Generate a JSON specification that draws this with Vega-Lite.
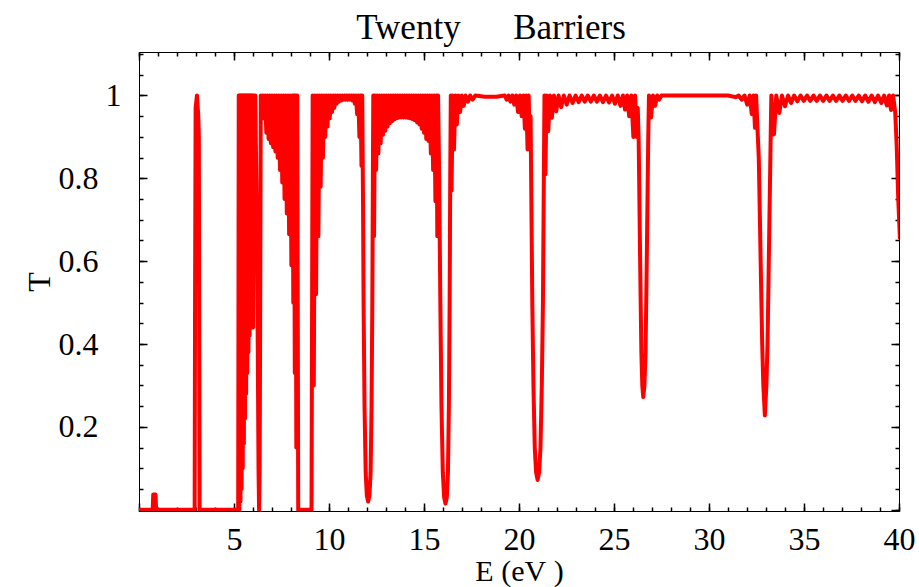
{
"$schema": "https://vega.github.io/schema/vega-lite/v6.json",
"width": 760, "height": 459,
"autosize": {"type": "none"},
"padding": {"left": 139, "top": 52, "right": 20, "bottom": 76},
"title": {"text": "Twenty\u00a0\u00a0\u00a0\u00a0\u00a0\u00a0Barriers", "font": "Liberation Serif", "fontSize": 35, "fontWeight": "normal", "color": "black", "anchor": "middle", "dx": -28, "offset": 5},
"data": {"values": [
{"E":0,"T":0},{"E":0.72,"T":0},{"E":0.75,"T":0.037},{"E":0.87,"T":0.037},{"E":0.9,"T":0},{"E":2.93,"T":0},{"E":2.95,"T":0.5},{"E":2.98,"T":0.97},{"E":3.05,"T":1},{"E":3.12,"T":0.95},{"E":3.15,"T":0.9},{"E":3.17,"T":0.4},{"E":3.19,"T":0},{"E":5.22,"T":0},
{"E":5.25,"T":1},{"E":5.28,"T":0},{"E":5.31,"T":1},{"E":5.34,"T":0.02},{"E":5.37,"T":1},{"E":5.4,"T":0.05},{"E":5.43,"T":1},{"E":5.46,"T":0.1},{"E":5.49,"T":1},{"E":5.52,"T":0.16},{"E":5.55,"T":1},{"E":5.58,"T":0.22},{"E":5.61,"T":1},{"E":5.64,"T":0.28},{"E":5.67,"T":1},{"E":5.7,"T":0.33},{"E":5.73,"T":1},{"E":5.76,"T":0.38},{"E":5.79,"T":1},{"E":5.82,"T":0.42},{"E":5.85,"T":1},{"E":5.88,"T":0.46},{"E":5.91,"T":1},{"E":5.94,"T":0.48},{"E":5.97,"T":1},{"E":6.0,"T":0.44},{"E":6.04,"T":1},{"E":6.12,"T":1},{"E":6.2,"T":0.7},{"E":6.25,"T":0.4},{"E":6.29,"T":0.1},{"E":6.32,"T":0},{"E":6.35,"T":0.1},{"E":6.38,"T":0.5},{"E":6.41,"T":1},
{"E":6.46,"T":0.97},{"E":6.52,"T":1},{"E":6.58,"T":0.945},{"E":6.64,"T":1},{"E":6.7,"T":0.91},{"E":6.76,"T":1},{"E":6.82,"T":0.895},{"E":6.88,"T":1},{"E":6.94,"T":0.885},{"E":7.0,"T":1},{"E":7.06,"T":0.875},{"E":7.12,"T":1},{"E":7.18,"T":0.865},{"E":7.24,"T":1},{"E":7.3,"T":0.85},{"E":7.36,"T":1},{"E":7.42,"T":0.82},{"E":7.48,"T":1},{"E":7.54,"T":0.79},{"E":7.6,"T":1},{"E":7.66,"T":0.75},{"E":7.72,"T":1},{"E":7.78,"T":0.715},{"E":7.84,"T":1},{"E":7.9,"T":0.665},{"E":7.96,"T":1},{"E":8.02,"T":0.59},{"E":8.08,"T":1},{"E":8.12,"T":0.5},{"E":8.16,"T":1},{"E":8.2,"T":0.33},{"E":8.24,"T":1},{"E":8.28,"T":0.15},{"E":8.33,"T":1},{"E":8.38,"T":0},{"E":9.08,"T":0},
{"E":9.14,"T":1},{"E":9.2,"T":0.3},{"E":9.26,"T":1},{"E":9.32,"T":0.52},{"E":9.38,"T":1},{"E":9.44,"T":0.66},{"E":9.5,"T":1},{"E":9.56,"T":0.78},{"E":9.62,"T":1},{"E":9.68,"T":0.85},{"E":9.74,"T":1},{"E":9.8,"T":0.9},{"E":9.86,"T":1},{"E":9.92,"T":0.925},{"E":9.98,"T":1},{"E":10.04,"T":0.945},{"E":10.1,"T":1},{"E":10.16,"T":0.96},{"E":10.22,"T":1},{"E":10.28,"T":0.97},{"E":10.34,"T":1},{"E":10.4,"T":0.98},{"E":10.46,"T":1},{"E":10.52,"T":0.985},{"E":10.58,"T":1},{"E":10.64,"T":0.988},{"E":10.7,"T":1},{"E":10.76,"T":0.99},{"E":10.82,"T":1},{"E":10.88,"T":0.99},{"E":10.94,"T":1},{"E":11.0,"T":0.99},{"E":11.06,"T":1},{"E":11.12,"T":0.99},{"E":11.18,"T":1},{"E":11.24,"T":0.988},{"E":11.3,"T":1},{"E":11.36,"T":0.98},{"E":11.42,"T":1},{"E":11.48,"T":0.955},{"E":11.54,"T":1},{"E":11.6,"T":0.9},{"E":11.66,"T":1},{"E":11.71,"T":0.83},{"E":11.75,"T":1},
{"E":11.79,"T":0.75},{"E":11.82,"T":0.5},{"E":11.87,"T":0.25},{"E":11.93,"T":0.09},{"E":11.99,"T":0.035},{"E":12.06,"T":0.02},{"E":12.13,"T":0.035},{"E":12.19,"T":0.09},{"E":12.24,"T":0.25},{"E":12.28,"T":0.5},{"E":12.31,"T":0.8},{"E":12.33,"T":1},
{"E":12.37,"T":0.66},{"E":12.42,"T":1},{"E":12.48,"T":0.82},{"E":12.54,"T":1},{"E":12.6,"T":0.86},{"E":12.66,"T":1},{"E":12.72,"T":0.885},{"E":12.78,"T":1},{"E":12.84,"T":0.905},{"E":12.9,"T":1},{"E":12.96,"T":0.915},{"E":13.02,"T":1},{"E":13.08,"T":0.925},{"E":13.14,"T":1},{"E":13.2,"T":0.933},{"E":13.26,"T":1},{"E":13.32,"T":0.938},{"E":13.38,"T":1},{"E":13.44,"T":0.942},{"E":13.5,"T":1},{"E":13.56,"T":0.945},{"E":13.62,"T":1},{"E":13.68,"T":0.947},{"E":13.74,"T":1},{"E":13.8,"T":0.947},{"E":13.86,"T":1},{"E":13.92,"T":0.947},{"E":13.98,"T":1},{"E":14.04,"T":0.947},{"E":14.1,"T":1},{"E":14.16,"T":0.946},{"E":14.22,"T":1},{"E":14.28,"T":0.945},{"E":14.34,"T":1},{"E":14.4,"T":0.943},{"E":14.46,"T":1},{"E":14.52,"T":0.94},{"E":14.58,"T":1},{"E":14.64,"T":0.935},{"E":14.7,"T":1},{"E":14.76,"T":0.93},{"E":14.82,"T":1},{"E":14.88,"T":0.92},{"E":14.94,"T":1},{"E":15.0,"T":0.91},{"E":15.06,"T":1},{"E":15.12,"T":0.895},{"E":15.18,"T":1},{"E":15.24,"T":0.89},{"E":15.3,"T":1},{"E":15.36,"T":0.86},{"E":15.42,"T":1},{"E":15.48,"T":0.82},{"E":15.54,"T":1},{"E":15.6,"T":0.745},{"E":15.66,"T":1},{"E":15.7,"T":0.66},{"E":15.74,"T":1},
{"E":15.8,"T":0.8},{"E":15.86,"T":0.5},{"E":15.92,"T":0.25},{"E":15.99,"T":0.09},{"E":16.06,"T":0.03},{"E":16.13,"T":0.015},{"E":16.2,"T":0.03},{"E":16.26,"T":0.09},{"E":16.31,"T":0.25},{"E":16.35,"T":0.5},{"E":16.38,"T":0.8},{"E":16.41,"T":1},
{"E":16.45,"T":0.77},{"E":16.51,"T":1},{"E":16.58,"T":0.87},{"E":16.65,"T":1},{"E":16.73,"T":0.93},{"E":16.81,"T":1},{"E":16.9,"T":0.96},{"E":16.99,"T":1},{"E":17.09,"T":0.975},{"E":17.19,"T":1},{"E":17.31,"T":0.985},{"E":17.43,"T":1},{"E":17.56,"T":0.99},{"E":17.7,"T":1},{"E":18.2,"T":0.997},{"E":18.8,"T":0.997},{"E":19.25,"T":1},{"E":19.35,"T":0.99},{"E":19.45,"T":1},{"E":19.55,"T":0.985},{"E":19.65,"T":1},{"E":19.75,"T":0.978},{"E":19.85,"T":1},{"E":19.95,"T":0.96},{"E":20.05,"T":1},{"E":20.14,"T":0.95},{"E":20.23,"T":1},{"E":20.31,"T":0.92},{"E":20.38,"T":1},{"E":20.45,"T":0.87},{"E":20.51,"T":1},{"E":20.57,"T":0.87},{"E":20.61,"T":0.95},
{"E":20.65,"T":0.75},{"E":20.7,"T":0.5},{"E":20.76,"T":0.3},{"E":20.83,"T":0.15},{"E":20.9,"T":0.09},{"E":20.98,"T":0.072},{"E":21.06,"T":0.09},{"E":21.13,"T":0.15},{"E":21.2,"T":0.3},{"E":21.26,"T":0.5},{"E":21.3,"T":0.75},{"E":21.34,"T":1},
{"E":21.39,"T":0.81},{"E":21.45,"T":1},{"E":21.54,"T":0.914},{"E":21.63,"T":1},{"E":21.73,"T":0.946},{"E":21.84,"T":1},{"E":21.96,"T":0.962},{"E":22.08,"T":1},{"E":22.22,"T":0.972},{"E":22.36,"T":1},{"E":22.51,"T":0.978},{"E":22.66,"T":1},{"E":22.82,"T":0.982},{"E":22.98,"T":1},{"E":23.14,"T":0.984},{"E":23.3,"T":1},{"E":23.46,"T":0.985},{"E":23.62,"T":1},{"E":23.78,"T":0.985},{"E":23.94,"T":1},{"E":24.1,"T":0.985},{"E":24.26,"T":1},{"E":24.42,"T":0.984},{"E":24.58,"T":1},{"E":24.74,"T":0.983},{"E":24.9,"T":1},{"E":25.05,"T":0.98},{"E":25.2,"T":1},{"E":25.34,"T":0.975},{"E":25.47,"T":1},{"E":25.58,"T":0.966},{"E":25.69,"T":1},{"E":25.8,"T":0.95},{"E":25.91,"T":1},{"E":26.02,"T":0.9},{"E":26.11,"T":1},{"E":26.2,"T":0.9},{"E":26.25,"T":0.97},
{"E":26.3,"T":0.89},{"E":26.37,"T":0.62},{"E":26.44,"T":0.38},{"E":26.49,"T":0.3},{"E":26.54,"T":0.272},{"E":26.6,"T":0.3},{"E":26.66,"T":0.38},{"E":26.73,"T":0.62},{"E":26.8,"T":0.89},{"E":26.84,"T":1},
{"E":26.95,"T":0.947},{"E":27.05,"T":1},{"E":27.16,"T":0.975},{"E":27.27,"T":1},{"E":27.38,"T":0.99},{"E":27.5,"T":1},{"E":31.0,"T":1},{"E":31.4,"T":0.996},{"E":31.56,"T":1},{"E":31.72,"T":0.99},{"E":31.87,"T":1},{"E":32.01,"T":0.978},{"E":32.14,"T":1},{"E":32.25,"T":0.955},{"E":32.34,"T":1},{"E":32.42,"T":0.922},{"E":32.48,"T":1},{"E":32.55,"T":0.922},
{"E":32.62,"T":0.85},{"E":32.68,"T":0.7},{"E":32.74,"T":0.545},{"E":32.8,"T":0.4},{"E":32.86,"T":0.3},{"E":32.94,"T":0.228},{"E":33.02,"T":0.3},{"E":33.08,"T":0.4},{"E":33.13,"T":0.545},{"E":33.18,"T":0.7},{"E":33.23,"T":0.85},{"E":33.28,"T":1},
{"E":33.42,"T":0.906},{"E":33.54,"T":1},{"E":33.7,"T":0.958},{"E":33.84,"T":1},{"E":34.0,"T":0.974},{"E":34.16,"T":1},{"E":34.32,"T":0.982},{"E":34.48,"T":1},{"E":34.65,"T":0.986},{"E":34.82,"T":1},{"E":34.99,"T":0.987},{"E":35.16,"T":1},{"E":35.33,"T":0.987},{"E":35.5,"T":1},{"E":35.67,"T":0.987},{"E":35.84,"T":1},{"E":36.01,"T":0.987},{"E":36.18,"T":1},{"E":36.35,"T":0.987},{"E":36.52,"T":1},{"E":36.69,"T":0.987},{"E":36.86,"T":1},{"E":37.03,"T":0.987},{"E":37.2,"T":1},{"E":37.37,"T":0.987},{"E":37.54,"T":1},{"E":37.71,"T":0.987},{"E":37.88,"T":1},{"E":38.05,"T":0.986},{"E":38.22,"T":1},{"E":38.39,"T":0.985},{"E":38.56,"T":1},{"E":38.73,"T":0.984},{"E":38.9,"T":1},{"E":39.07,"T":0.982},{"E":39.22,"T":1},{"E":39.36,"T":0.976},{"E":39.48,"T":1},{"E":39.58,"T":0.965},{"E":39.69,"T":1},{"E":39.8,"T":0.96},{"E":39.88,"T":0.878},{"E":39.96,"T":0.75},{"E":40.05,"T":0.653}
]},
"layer": [
{"mark": {"type": "line", "color": "#ff0000", "strokeWidth": 4, "strokeJoin": "round", "clip": true},
 "encoding": {
  "x": {"field": "E", "type": "quantitative", "scale": {"domain": [0, 40], "nice": false, "zero": false},
   "axis": {"orient": "bottom", "values": [5,10,15,20,25,30,35,40],
    "title": "E\u00a0(eV\u00a0)", "titleFontSize": 30, "ticks": false, "labelPadding": 13, "titlePadding": 1, "labelFlush": false, "labelOverlap": false}},
  "y": {"field": "T", "type": "quantitative", "scale": {"domain": [-0.003, 1.105], "nice": false, "zero": false},
   "axis": {"orient": "left", "values": [0.2,0.4,0.6,0.8,1],
    "title": "T", "labelExpr": "datum.value == 1 ? '1' : format(datum.value, '.1f')", "ticks": false,
    "labelPadding": {"condition": {"test": "datum.value == 1", "value": 18}, "value": 41},
    "titlePadding": 2, "labelOverlap": false}}
 }},
{"mark": {"type": "point", "opacity": 0},
 "encoding": {
  "x": {"field": "E", "type": "quantitative",
   "axis": {"orient": "bottom", "values": [0,1,2,3,4,5,6,7,8,9,10,11,12,13,14,15,16,17,18,19,20,21,22,23,24,25,26,27,28,29,30,31,32,33,34,35,36,37,38,39,40],
    "title": null, "labels": false, "ticks": true, "tickSize": 4, "offset": -4, "tickColor": "black", "tickWidth": 1.5, "tickOpacity": 1}},
  "y": {"field": "T", "type": "quantitative",
   "axis": {"orient": "left", "values": [0,0.05,0.1,0.15,0.2,0.25,0.3,0.35,0.4,0.45,0.5,0.55,0.6,0.65,0.7,0.75,0.8,0.85,0.9,0.95,1,1.05,1.1],
    "title": null, "labels": false, "ticks": true, "tickSize": 4, "offset": -4, "tickColor": "black", "tickWidth": 1.5, "tickOpacity": 1}}
 }},
{"mark": {"type": "point", "opacity": 0},
 "encoding": {
  "x": {"field": "E", "type": "quantitative",
   "axis": {"orient": "top", "values": [0,1,2,3,4,5,6,7,8,9,10,11,12,13,14,15,16,17,18,19,20,21,22,23,24,25,26,27,28,29,30,31,32,33,34,35,36,37,38,39,40],
    "title": null, "labels": false, "ticks": true, "tickSize": 4, "offset": -4, "tickColor": "black", "tickWidth": 1.5, "tickOpacity": 1}},
  "y": {"field": "T", "type": "quantitative",
   "axis": {"orient": "right", "values": [0,0.05,0.1,0.15,0.2,0.25,0.3,0.35,0.4,0.45,0.5,0.55,0.6,0.65,0.7,0.75,0.8,0.85,0.9,0.95,1,1.05,1.1],
    "title": null, "labels": false, "ticks": true, "tickSize": 4, "offset": -4, "tickColor": "black", "tickWidth": 1.5, "tickOpacity": 1}}
 }},
{"mark": {"type": "point", "opacity": 0},
 "encoding": {
  "x": {"field": "E", "type": "quantitative",
   "axis": {"orient": "bottom", "values": [0,5,10,15,20,25,30,35,40], "title": null, "labels": false, "ticks": true, "tickSize": 8, "offset": -8, "tickColor": "black", "tickWidth": 1.5, "tickOpacity": 1}},
  "y": {"field": "T", "type": "quantitative",
   "axis": {"orient": "left", "values": [0,0.2,0.4,0.6,0.8,1], "title": null, "labels": false, "ticks": true, "tickSize": 8, "offset": -8, "tickColor": "black", "tickWidth": 1.5, "tickOpacity": 1}}
 }},
{"mark": {"type": "point", "opacity": 0},
 "encoding": {
  "x": {"field": "E", "type": "quantitative",
   "axis": {"orient": "top", "values": [0,5,10,15,20,25,30,35,40], "title": null, "labels": false, "ticks": true, "tickSize": 8, "offset": -8, "tickColor": "black", "tickWidth": 1.5, "tickOpacity": 1}},
  "y": {"field": "T", "type": "quantitative",
   "axis": {"orient": "right", "values": [0,0.2,0.4,0.6,0.8,1], "title": null, "labels": false, "ticks": true, "tickSize": 8, "offset": -8, "tickColor": "black", "tickWidth": 1.5, "tickOpacity": 1}}
 }}
],
"resolve": {"axis": {"x": "independent", "y": "independent"}},
"config": {
 "view": {"stroke": "black", "strokeWidth": 1},
 "axis": {"grid": false, "domain": false, "tickColor": "black", "tickWidth": 1, "labelColor": "black", "titleColor": "black",
  "labelFont": "Liberation Serif", "titleFont": "Liberation Serif", "labelFontSize": 32, "titleFontSize": 32, "titleFontWeight": "normal"}
}
}
